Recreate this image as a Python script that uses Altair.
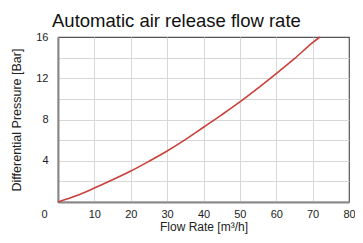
import altair as alt
import pandas as pd

flow = [0, 5, 10, 15, 20, 25, 30, 35, 40, 45, 50, 55, 60, 65, 70, 72]
pressure = [0, 0.6, 1.35, 2.15, 3.0, 3.95, 4.95, 6.05, 7.25, 8.45, 9.7, 11.05, 12.45, 13.9, 15.45, 16.0]
x_ticks = [0, 10, 20, 30, 40, 50, 60, 70, 80]
y_ticks = [0, 2, 4, 6, 8, 10, 12, 14, 16]

df = pd.DataFrame({"flow": flow, "pressure": pressure})

chart = alt.Chart(df).mark_line(
    color="#c9413a", strokeWidth=1.6, interpolate="monotone"
).encode(
    x=alt.X("flow:Q", scale=alt.Scale(domain=[0, 80], nice=False),
            axis=alt.Axis(values=x_ticks, title="Flow Rate [m³/h]", ticks=False,
                          labelFlush=False,
                          labelPadding=6, titlePadding=2, titleFontSize=12,
                          gridOpacity={"condition": {"test": "datum.value == 80", "value": 0}, "value": 1},
                          labelOffset={"condition": {"test": "datum.value == 0", "value": -14}, "value": 0})),
    y=alt.Y("pressure:Q", scale=alt.Scale(domain=[0, 16], nice=False),
            axis=alt.Axis(values=y_ticks, title="Differential Pressure [Bar]", ticks=False,
                          labelPadding=10, titlePadding=12,
                          gridOpacity={"condition": {"test": "datum.value == 16", "value": 0}, "value": 1},
                          labelExpr="datum.value % 4 == 0 && datum.value > 0 ? datum.label : ''")),
).properties(
    width=291, height=165,
    title=alt.TitleParams("Automatic air release flow rate", anchor="start", frame="group", dx=-6,
                          fontSize=18.5, fontWeight="normal", font="Liberation Sans",
                          color="#111", offset=1),
    autosize=alt.AutoSizeParams(type="none"),
    padding={"left": 50, "top": 29, "right": 6, "bottom": 33},
).configure_view(
    stroke="#555", strokeWidth=1.2
).configure_axis(
    labelFont="Liberation Sans", titleFont="Liberation Sans",
    labelFontSize=11, titleFontSize=12.5, titleFontWeight="normal",
    labelColor="#222", titleColor="#222",
    gridColor="#d8d8d8", gridWidth=1,
    domainColor="#888", domainWidth=2,
)

chart.save("out.html", embed_options={"renderer": "svg", "actions": False})
